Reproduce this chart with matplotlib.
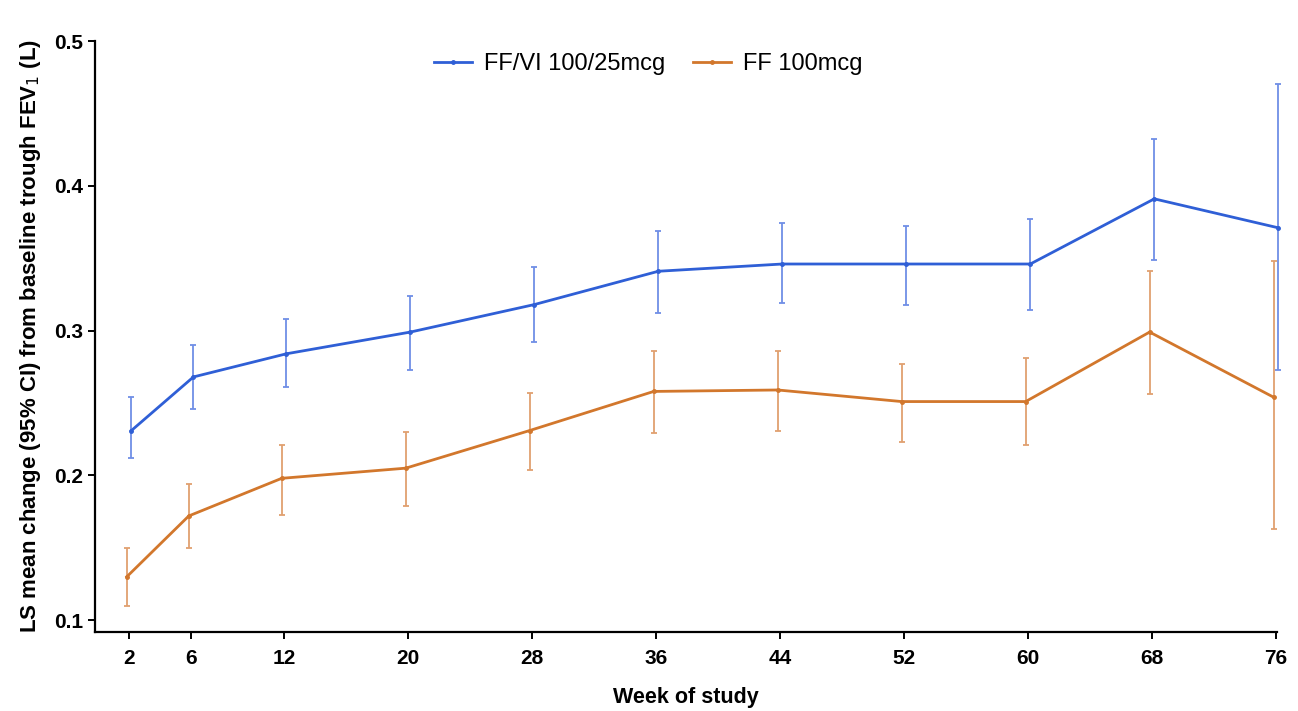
import matplotlib.pyplot as plt
from matplotlib.lines import Line2D
import numpy as np

# LS mean change from baseline trough FEV1 (L), with 95% CI
weeks = [2, 6, 12, 20, 28, 36, 44, 52, 60, 68, 76]

ffvi_mean = [0.231, 0.268, 0.284, 0.299, 0.318, 0.341, 0.346, 0.346, 0.346, 0.391, 0.371]
ffvi_low = [0.212, 0.246, 0.261, 0.273, 0.292, 0.312, 0.319, 0.318, 0.314, 0.349, 0.273]
ffvi_high = [0.254, 0.290, 0.308, 0.324, 0.344, 0.369, 0.374, 0.372, 0.377, 0.432, 0.470]

ff_mean = [0.130, 0.172, 0.198, 0.205, 0.231, 0.258, 0.259, 0.251, 0.251, 0.299, 0.254]
ff_low = [0.110, 0.150, 0.173, 0.179, 0.204, 0.229, 0.231, 0.223, 0.221, 0.256, 0.163]
ff_high = [0.150, 0.194, 0.221, 0.230, 0.257, 0.286, 0.286, 0.277, 0.281, 0.341, 0.348]

plt.rcParams['font.family'] = ['Liberation Sans', 'DejaVu Sans']

fig = plt.figure(figsize=(12.98, 7.11), dpi=100)
ax = fig.add_axes([0.0732, 0.111, 0.911, 0.8313])

w = np.array(weeks, dtype=float)
series = [
    ('FF/VI 100/25mcg', ffvi_mean, ffvi_low, ffvi_high, '#2f5fd6', '#6f8fe6', 0.15),
    ('FF 100mcg', ff_mean, ff_low, ff_high, '#d2772c', '#e0a070', -0.15),
]
handles = []
for label, m, lo, hi, col, ecol, dx in series:
    m = np.array(m)
    err = [m - np.array(lo), np.array(hi) - m]
    cont = ax.errorbar(w + dx, m, yerr=err, color=col, ecolor=ecol, elinewidth=1.3,
                       capsize=2.5, capthick=1.3, lw=2.0, marker='o', ms=2.5)
    for art in cont.get_children():
        art.set_clip_on(False)
    handles.append(Line2D([], [], color=col, lw=2.0, marker='o', ms=2.5, label=label))

ax.set_xlim(-0.2, 76.1)
ax.set_ylim(0.0918, 0.5)
ax.set_xticks(weeks)
ax.set_yticks([0.1, 0.2, 0.3, 0.4, 0.5])
ax.set_yticklabels(['0.1', '0.2', '0.3', '0.4', '0.5'])

for s in ['top', 'right']:
    ax.spines[s].set_visible(False)
for s in ['left', 'bottom']:
    ax.spines[s].set_linewidth(1.6)
ax.tick_params(axis='both', direction='out', length=5, width=1.4, labelsize=15)
ax.tick_params(axis='x', pad=7)
for t in ax.get_xticklabels() + ax.get_yticklabels():
    t.set_fontweight('bold')

ax.set_xlabel('Week of study', fontsize=15.5, fontweight='bold', labelpad=14)
ax.set_ylabel('LS mean change (95% CI) from baseline trough FEV$_1$ (L)',
              fontsize=16, fontweight='bold', labelpad=8)

ax.legend(handles=handles, loc='upper center', bbox_to_anchor=(0.468, 1.015), ncol=2,
          frameon=False, fontsize=17, handlelength=1.6, columnspacing=1.2,
          handletextpad=0.5)

fig.savefig('out.png', dpi=100)
